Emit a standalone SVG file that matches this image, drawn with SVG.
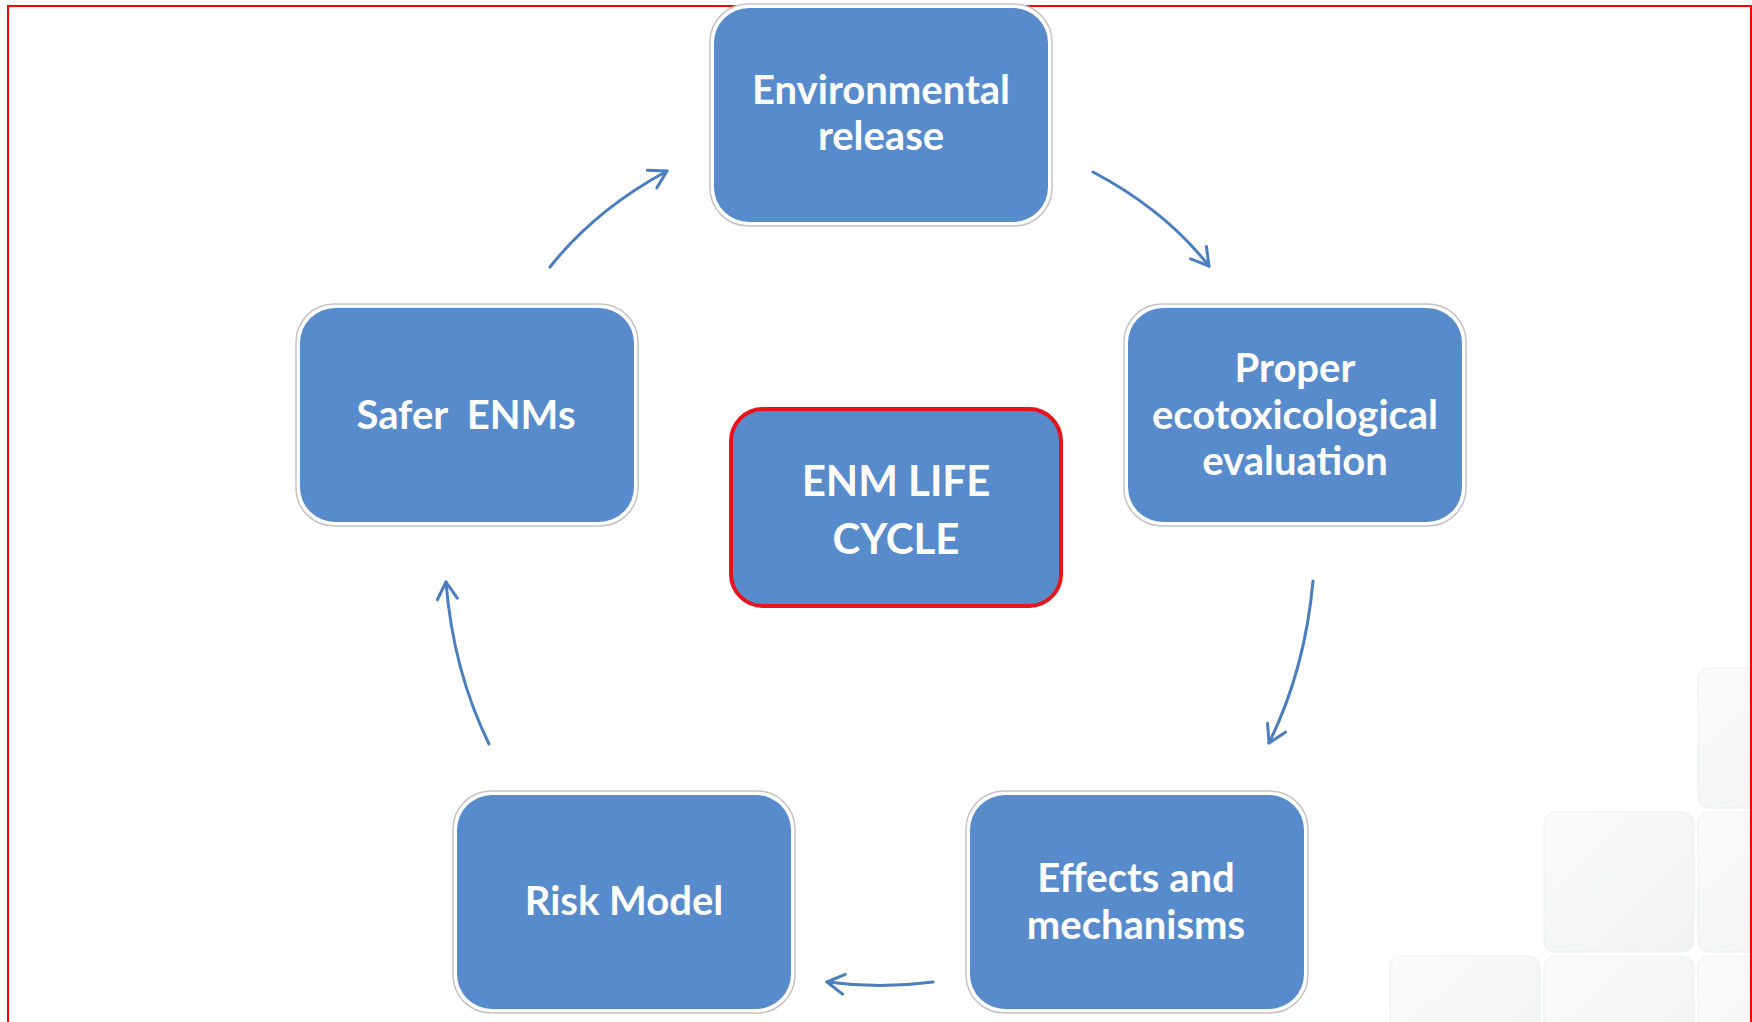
<svg xmlns="http://www.w3.org/2000/svg" width="1752" height="1022" viewBox="0 0 1752 1022">
<defs>
<style>
.frame{fill:#ffffff;stroke:#c4c4c4;stroke-width:1.5}
.box{fill:#588BCB}
.lbl{font-family:Lato,"Open Sans",sans-serif;font-weight:700;fill:#ffffff;text-anchor:middle;font-size:40px}
.big{font-size:42px}
.conn{fill:none;stroke:#4A7EBF;stroke-width:3;stroke-linecap:round}
.tile{fill:url(#tg);stroke:#eef0f0;stroke-width:1.2}
</style>
<linearGradient id="tg" x1="0" y1="0" x2="1" y2="1">
<stop offset="0" stop-color="#fbfbfb"/>
<stop offset="1" stop-color="#f1f2f2"/>
</linearGradient>
<marker id="ah" viewBox="0 0 22 26" refX="19" refY="13" markerWidth="22" markerHeight="26" markerUnits="userSpaceOnUse" orient="auto">
<path d="M2,3 L19,13 L2,23" fill="none" stroke="#4A7EBF" stroke-width="3" stroke-linecap="round" stroke-linejoin="round"/>
</marker>
</defs>
<rect width="1752" height="1022" fill="#ffffff"/>
<g id="tiles">
<rect class="tile" x="1698" y="668" width="150" height="140" rx="12"/>
<rect class="tile" x="1544" y="812" width="150" height="140" rx="12"/>
<rect class="tile" x="1698" y="812" width="150" height="140" rx="12"/>
<rect class="tile" x="1390" y="956" width="150" height="140" rx="12"/>
<rect class="tile" x="1544" y="956" width="150" height="140" rx="12"/>
<rect class="tile" x="1698" y="956" width="150" height="140" rx="12"/>
</g>
<path d="M8,1022 V6 H1751 V1022" fill="none" stroke="#ff0000" stroke-width="2"/>
<g id="connectors">
<path class="conn" d="M550,267 Q595,210 667,171" marker-end="url(#ah)"/>
<path class="conn" d="M1093,172 Q1165,210 1209,266" marker-end="url(#ah)"/>
<path class="conn" d="M1313,581 Q1305,670 1269,743" marker-end="url(#ah)"/>
<path class="conn" d="M933,982 Q880,989 827,982" marker-end="url(#ah)"/>
<path class="conn" d="M489,744 Q453,670 446,582" marker-end="url(#ah)"/>
</g>
<g id="node-env">
<rect class="frame" x="710" y="4" width="342" height="222" rx="38"/>
<rect class="box" x="714" y="8" width="334" height="214" rx="35"/>
<text class="lbl" x="881" y="104">Environmental</text>
<text class="lbl" x="881" y="150">release</text>
</g>
<g id="node-proper">
<rect class="frame" x="1124" y="304" width="342" height="222" rx="38"/>
<rect class="box" x="1128" y="308" width="334" height="214" rx="35"/>
<text class="lbl" x="1295" y="382">Proper</text>
<text class="lbl" x="1295" y="429">ecotoxicological</text>
<text class="lbl" x="1295" y="475">evaluation</text>
</g>
<g id="node-effects">
<rect class="frame" x="966" y="791" width="342" height="222" rx="38"/>
<rect class="box" x="970" y="795" width="334" height="214" rx="35"/>
<text class="lbl" x="1136" y="892">Effects and</text>
<text class="lbl" x="1136" y="939">mechanisms</text>
</g>
<g id="node-risk">
<rect class="frame" x="453" y="791" width="342" height="222" rx="38"/>
<rect class="box" x="457" y="795" width="334" height="214" rx="35"/>
<text class="lbl" x="624" y="915">Risk Model</text>
</g>
<g id="node-safer">
<rect class="frame" x="296" y="304" width="342" height="222" rx="38"/>
<rect class="box" x="300" y="308" width="334" height="214" rx="35"/>
<text class="lbl" x="466" y="429" xml:space="preserve">Safer  ENMs</text>
</g>
<g id="node-center">
<rect class="box" x="731" y="409" width="330" height="197" rx="32" stroke="#e8141c" stroke-width="4"/>
<text class="lbl big" x="896" y="496">ENM LIFE</text>
<text class="lbl big" x="896" y="554">CYCLE</text>
</g>
</svg>
